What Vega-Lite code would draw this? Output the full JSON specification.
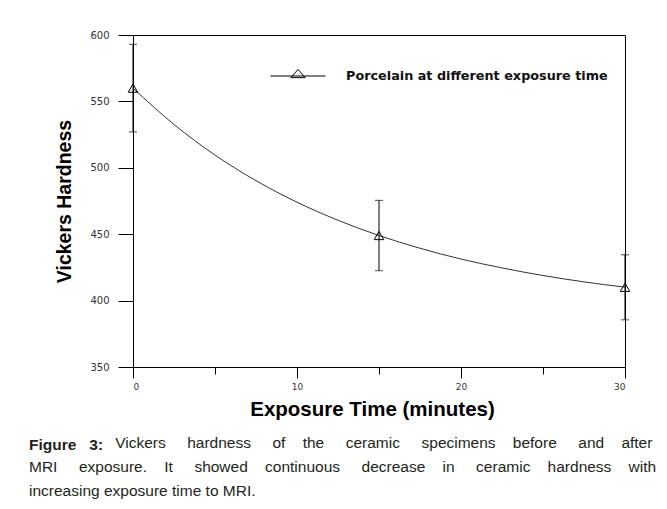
{
  "$schema": "https://vega.github.io/schema/vega-lite/v6.json",
  "width": 492,
  "height": 332,
  "autosize": {"type": "none"},
  "padding": {"left": 133, "top": 35, "right": 42, "bottom": 142},
  "background": "white",
  "config": {
    "view": {"stroke": "black", "strokeWidth": 1},
    "axis": {
      "grid": false,
      "domainColor": "black",
      "tickColor": "black",
      "labelFont": "DejaVu Sans",
      "labelColor": "#333333",
      "labelOverlap": false,
      "titleFont": "Liberation Sans",
      "titleFontWeight": "bold",
      "titleColor": "black"
    },
    "axisY": {"labelOverlap": false}
  },
  "title": {
    "text": "Figure\u00a0\u00a0\u00a03:",
    "subtitle": [
      "\u200b\u00a0\u00a0\u00a0\u00a0\u00a0\u00a0\u00a0\u00a0\u00a0\u00a0\u00a0\u00a0\u00a0\u00a0\u00a0\u00a0\u00a0\u00a0\u00a0\u00a0Vickers\u00a0\u00a0\u00a0\u00a0\u00a0hardness\u00a0\u00a0\u00a0\u00a0\u00a0of\u00a0\u00a0\u00a0\u00a0the\u00a0\u00a0\u00a0\u00a0\u00a0ceramic\u00a0\u00a0\u00a0\u00a0\u00a0specimens\u00a0\u00a0\u00a0\u00a0before\u00a0\u00a0\u00a0\u00a0\u00a0and\u00a0\u00a0\u00a0\u00a0after",
      "MRI\u00a0\u00a0\u00a0\u00a0\u00a0exposure.\u00a0\u00a0\u00a0\u00a0It\u00a0\u00a0\u00a0\u00a0\u00a0showed\u00a0\u00a0\u00a0\u00a0continuous\u00a0\u00a0\u00a0\u00a0\u00a0decrease\u00a0\u00a0\u00a0\u00a0in\u00a0\u00a0\u00a0\u00a0\u00a0ceramic\u00a0\u00a0\u00a0\u00a0hardness\u00a0\u00a0\u00a0\u00a0with",
      "increasing exposure time to MRI."
    ],
    "orient": "bottom",
    "anchor": "start",
    "frame": "group",
    "dx": -104,
    "offset": 18,
    "font": "Liberation Sans",
    "fontSize": 15.5,
    "fontWeight": "bold",
    "color": "#231f20",
    "lineHeight": 24,
    "subtitleFont": "Liberation Sans",
    "subtitleFontSize": 15.5,
    "subtitleFontWeight": "normal",
    "subtitleColor": "#231f20",
    "subtitleLineHeight": 24,
    "subtitlePadding": -17
  },
  "datasets": {
    "pts": [
      {"t": 0, "h": 560, "lo": 527, "hi": 593, "series": "Porcelain at different exposure time"},
      {"t": 15, "h": 449, "lo": 422.5, "hi": 475.5, "series": "Porcelain at different exposure time"},
      {"t": 30, "h": 410, "lo": 385.5, "hi": 434.5, "series": "Porcelain at different exposure time"}
    ],
    "fit": [
      {"t": 0, "h": 560},
      {"t": 2.5, "h": 532.6},
      {"t": 5, "h": 509.6},
      {"t": 7.5, "h": 490.3},
      {"t": 10, "h": 474.1},
      {"t": 12.5, "h": 460.5},
      {"t": 15, "h": 449.0},
      {"t": 17.5, "h": 439.4},
      {"t": 20, "h": 431.3},
      {"t": 22.5, "h": 424.6},
      {"t": 25, "h": 418.9},
      {"t": 27.5, "h": 414.1},
      {"t": 30, "h": 410.1}
    ]
  },
  "layer": [
    {
      "data": {"name": "fit"},
      "mark": {"type": "line", "interpolate": "monotone", "color": "#333333", "strokeWidth": 1},
      "encoding": {
        "x": {
          "field": "t", "type": "quantitative",
          "scale": {"domain": [0, 30], "nice": false},
          "axis": {
            "values": [0, 5, 10, 15, 20, 25, 30],
            "labelExpr": "datum.value % 10 === 0 ? datum.label : ''",
            "labelOverlap": false,
            "tickSize": {"condition": {"test": "datum.value % 10 === 0", "value": 11}, "value": 7},
            "labelFontSize": 9,
            "labelPadding": 4,
            "title": "Exposure Time (minutes)",
            "titleFontSize": 20.5,
            "titlePadding": 8,
            "titleX": 239
          }
        },
        "y": {
          "field": "h", "type": "quantitative",
          "scale": {"domain": [350, 600], "nice": false},
          "axis": {
            "values": [350, 375, 400, 425, 450, 475, 500, 525, 550, 575, 600],
            "labelExpr": "datum.value % 50 === 0 ? datum.label : datum.label + '.00'",
            "labelOverlap": false,
            "labelFontSize": {"condition": {"test": "datum.value % 50 === 0", "value": 10}, "value": 7},
            "tickSize": 15,
            "labelPadding": 9,
            "title": "Vickers Hardness",
            "titleFontSize": 19.5,
            "titlePadding": 15
          }
        }
      }
    },
    {
      "data": {"name": "pts"},
      "mark": {"type": "rule", "color": "black", "strokeWidth": 1},
      "encoding": {
        "x": {"field": "t", "type": "quantitative"},
        "y": {"field": "lo", "type": "quantitative"},
        "y2": {"field": "hi"}
      }
    },
    {
      "data": {"name": "pts"},
      "mark": {"type": "tick", "orient": "horizontal", "size": 8, "thickness": 1, "color": "black"},
      "encoding": {
        "x": {"field": "t", "type": "quantitative"},
        "y": {"field": "lo", "type": "quantitative"}
      }
    },
    {
      "data": {"name": "pts"},
      "mark": {"type": "tick", "orient": "horizontal", "size": 8, "thickness": 1, "color": "black"},
      "encoding": {
        "x": {"field": "t", "type": "quantitative"},
        "y": {"field": "hi", "type": "quantitative"}
      }
    },
    {
      "data": {"name": "pts"},
      "mark": {"type": "point", "shape": "triangle-up", "filled": false, "size": 90, "strokeWidth": 1, "opacity": 1},
      "encoding": {
        "x": {"field": "t", "type": "quantitative"},
        "y": {"field": "h", "type": "quantitative"},
        "color": {
          "field": "series", "type": "nominal",
          "scale": {"range": ["black"]},
          "legend": {
            "title": null,
            "orient": "none",
            "legendX": 137,
            "legendY": 13,
            "padding": 0,
            "symbolType": "M-1,0H1M-0.26,0.06L0,-0.24L0.26,0.06Z",
            "symbolSize": 3025,
            "symbolStrokeColor": "black",
            "symbolStrokeWidth": 1,
            "symbolFillColor": "transparent",
            "labelFont": "DejaVu Sans",
            "labelFontSize": 12.8,
            "labelFontWeight": "bold",
            "labelColor": "#111111",
            "labelOffset": 20,
            "labelLimit": 400
          }
        }
      }
    }
  ]
}
